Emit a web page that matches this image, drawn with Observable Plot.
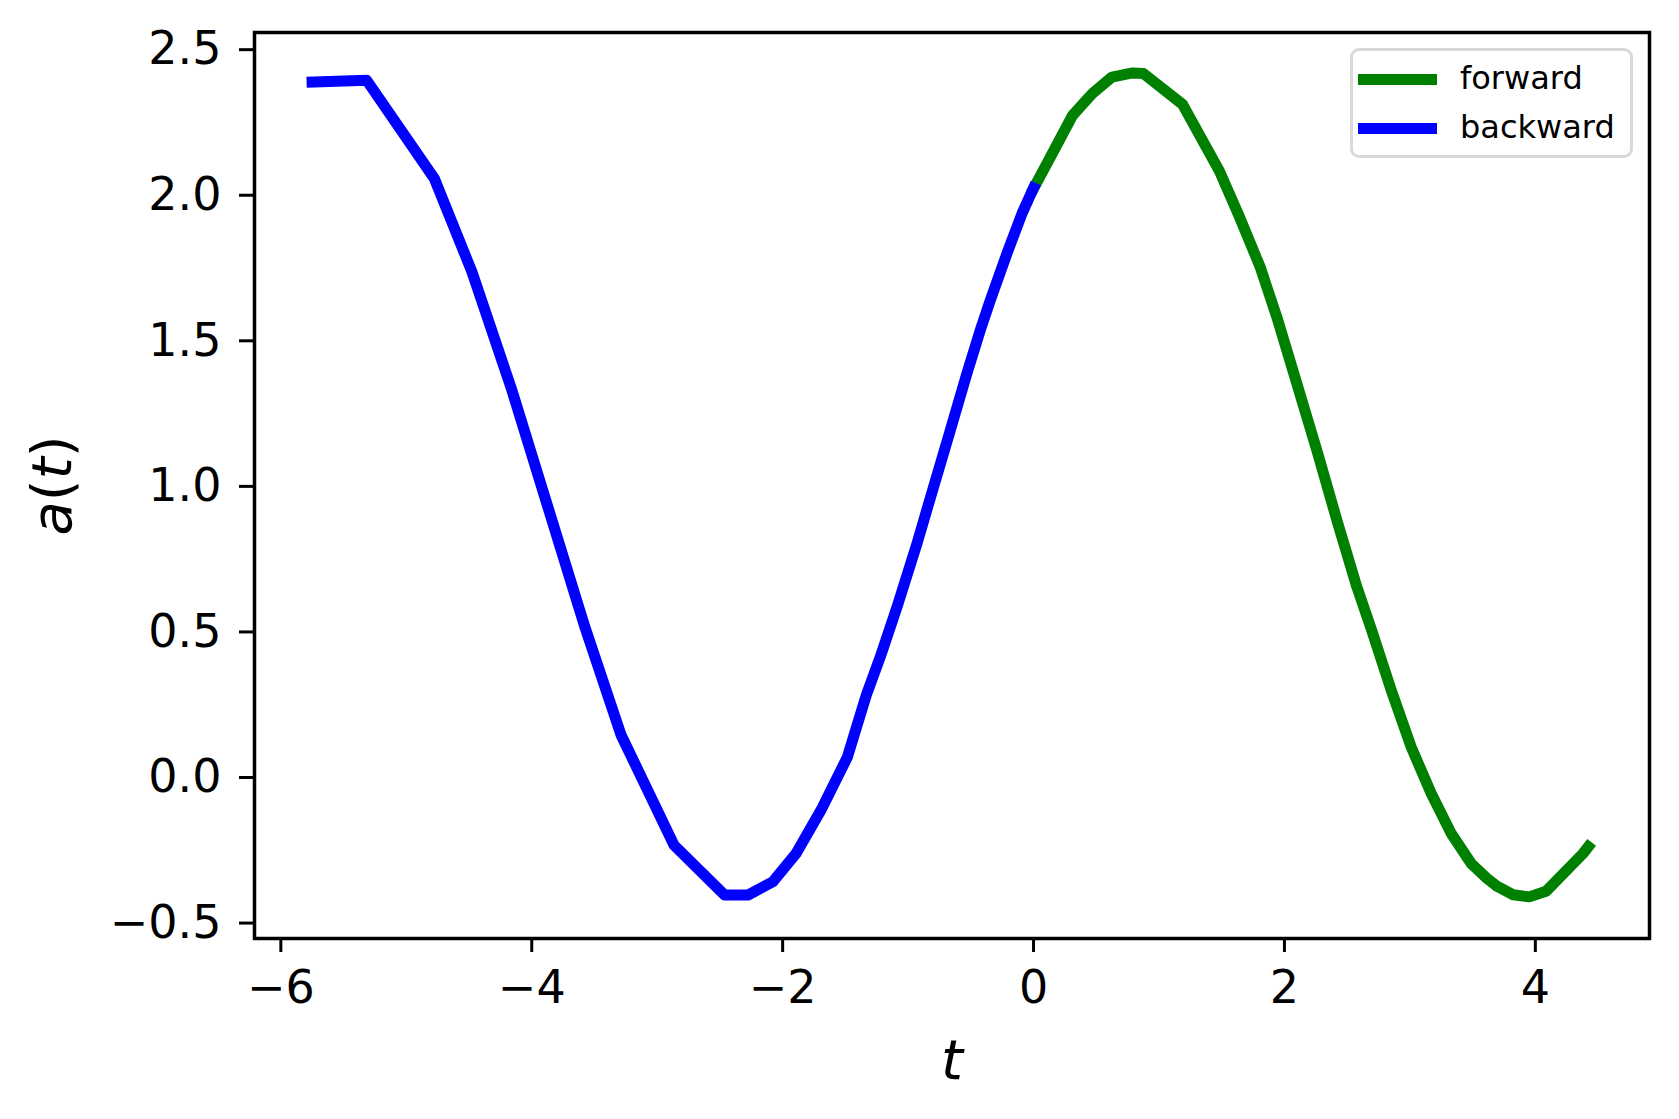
<!DOCTYPE html>
<html>
<head>
<meta charset="utf-8">
<script src="https://cdn.jsdelivr.net/npm/d3@7"></script>
<script src="https://cdn.jsdelivr.net/npm/@observablehq/plot@0.6"></script>
<style>
  html, body { margin: 0; padding: 0; background: white; overflow: hidden; }
  #wrap { position: relative; width: 1679px; height: 1119px; font-family: "DejaVu Sans", sans-serif; }
  #wrap svg g[aria-label="x-axis label"] text,
  #wrap svg g[aria-label="y-axis label"] text { font-size: 56px; }
  #wrap svg .it { font-style: italic; }
  .legend { position: absolute; left: 1350px; top: 48px; width: 283px; height: 110px; box-sizing: border-box;
            border: 3.5px solid #d9d9d9; border-radius: 9px; background: rgba(255,255,255,0.8); }
  .row { position: absolute; left: 0; height: 40px; }
  .sw { position: absolute; left: 5px; width: 79px; height: 11px; }
  .lab { position: absolute; left: 107px; font-size: 32px; line-height: 32px; color: black; white-space: nowrap; }
</style>
</head>
<body>
<div id="wrap"></div>
<script>
// Forward integration (t >= 0)
const forwardT = [0, 0.17, 0.312, 0.468, 0.625, 0.79, 0.876, 1.188, 1.483, 1.640, 1.806, 1.939, 2.099, 2.258, 2.418, 2.577, 2.700, 2.851, 3.010, 3.170, 3.329, 3.488, 3.613, 3.693, 3.825, 3.952, 4.085, 4.380, 4.422];
const forwardA = [2.023, 2.160, 2.275, 2.349, 2.406, 2.420, 2.418, 2.312, 2.082, 1.927, 1.754, 1.582, 1.353, 1.124, 0.884, 0.655, 0.500, 0.300, 0.105, -0.055, -0.192, -0.295, -0.346, -0.373, -0.403, -0.410, -0.391, -0.261, -0.238];
// Backward integration (t <= 0)
const backwardT = [0, -0.092, -0.212, -0.345, -0.425, -0.531, -0.664, -0.797, -0.929, -1.088, -1.222, -1.333, -1.484, -1.694, -1.893, -2.078, -2.277, -2.462, -2.866, -3.288, -3.575, -4.164, -4.477, -4.776, -5.316, -5.751];
const backwardA = [2.025, 1.937, 1.800, 1.639, 1.536, 1.388, 1.192, 0.998, 0.804, 0.586, 0.414, 0.283, 0.070, -0.112, -0.261, -0.358, -0.404, -0.404, -0.232, 0.146, 0.515, 1.338, 1.737, 2.057, 2.395, 2.389];

const xTicks = [-6, -4, -2, 0, 2, 4];
const yTicks = [-0.5, 0.0, 0.5, 1.0, 1.5, 2.0, 2.5];
const seriesNames = ["forward", "backward"];
const seriesColors = ["green", "blue"];

const forward = forwardT.map((t, i) => ({t, a: forwardA[i]}));
const backward = backwardT.map((t, i) => ({t, a: backwardA[i]}));

const minus = s => s.replace("-", "\u2212");
const fmtX = d => minus(String(d));
const fmtY = d => minus(d.toFixed(1));

const chart = Plot.plot({
  width: 1679,
  height: 1119,
  marginLeft: 254,
  marginRight: 30,
  marginTop: 32,
  marginBottom: 181,
  style: {fontFamily: "DejaVu Sans", color: "black", background: "white", overflow: "visible"},
  x: {domain: [-6.21, 4.91]},
  y: {domain: [-0.553, 2.559]},
  marks: [
    Plot.line(forward, {x: "t", y: "a", stroke: seriesColors[0], strokeWidth: 11, strokeLinejoin: "round", strokeLinecap: "square"}),
    Plot.line(backward, {x: "t", y: "a", stroke: seriesColors[1], strokeWidth: 11, strokeLinejoin: "round", strokeLinecap: "square"}),
    Plot.frame({stroke: "black", strokeWidth: 3.5}),
    Plot.axisX({ticks: xTicks, tickFormat: fmtX, tickSize: 14, tickPadding: 18, fontSize: 46, strokeWidth: 3,
                label: "t", labelAnchor: "center", labelOffset: 140, labelArrow: "none"}),
    Plot.axisY({ticks: yTicks, tickFormat: fmtY, tickSize: 15, tickPadding: 18, fontSize: 46, strokeWidth: 3,
                label: "a(t)", labelAnchor: "center", labelOffset: 223, labelArrow: "none"})
  ]
});

const wrap = document.getElementById("wrap");
wrap.appendChild(chart);

// Math-style axis labels: italic variables, upright parentheses
const sel = d3.select(chart);
sel.selectAll('g[aria-label="x-axis label"] text').each(function () {
  const t = d3.select(this); const txt = t.text(); t.text("");
  t.append("tspan").attr("class", "it").text(txt);
});
sel.selectAll('g[aria-label="y-axis label"] text').each(function () {
  const t = d3.select(this); t.text("");
  t.append("tspan").attr("class", "it").text("a");
  t.append("tspan").text("(");
  t.append("tspan").attr("class", "it").text("t");
  t.append("tspan").text(")");
});

// Legend
const legend = document.createElement("div");
legend.className = "legend";
seriesNames.forEach((name, i) => {
  const row = document.createElement("div");
  row.className = "row";
  row.style.top = (i === 0 ? 8 : 57) + "px";
  const sw = document.createElement("div");
  sw.className = "sw";
  sw.style.background = seriesColors[i];
  sw.style.top = "15px";
  const lab = document.createElement("div");
  lab.className = "lab";
  lab.style.top = "3px";
  lab.textContent = name;
  row.appendChild(sw);
  row.appendChild(lab);
  legend.appendChild(row);
});
wrap.appendChild(legend);
</script>
</body>
</html>
